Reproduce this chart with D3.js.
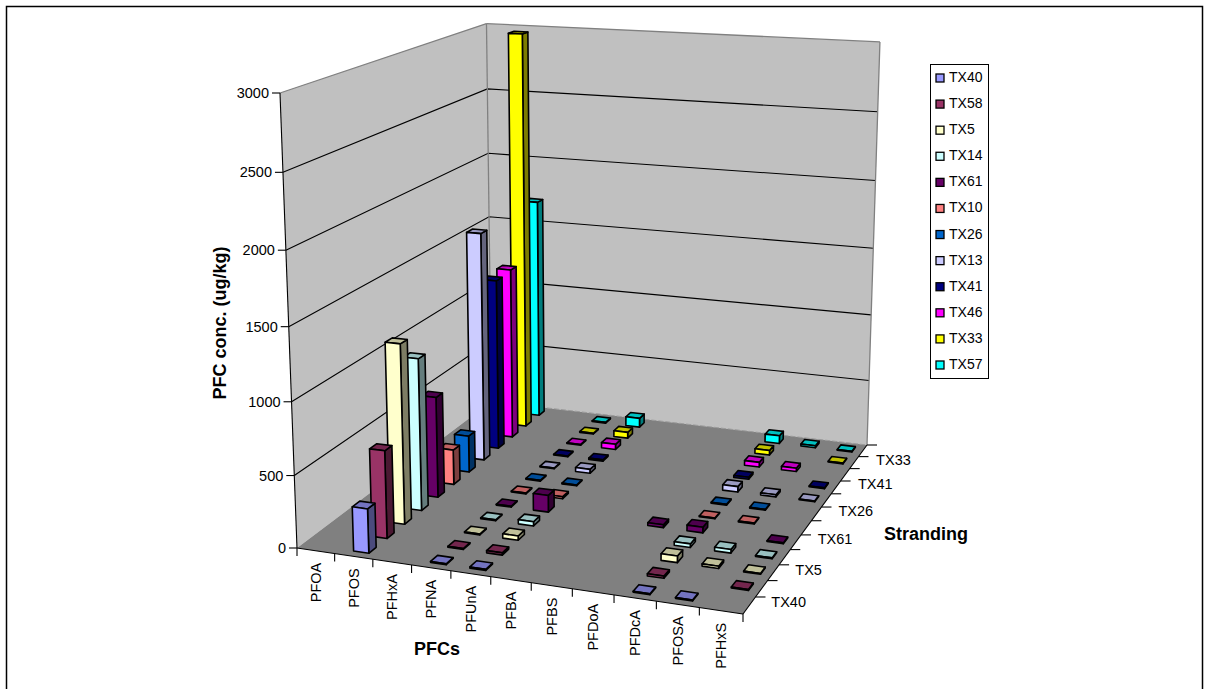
<!DOCTYPE html>
<html>
<head>
<script src="https://d3js.org/d3.v7.min.js"></script>
<style>
html, body { margin: 0; padding: 0; background: #fff; }
svg { display: block; }
text { font-family: "Liberation Sans", Arial, sans-serif; fill: #000; }
</style>
</head>
<body>
<script>
var categories = ["PFOA","PFOS","PFHxA","PFNA","PFUnA","PFBA","PFBS","PFDoA","PFDcA","PFOSA","PFHxS"];
var strandings = ["TX40","TX58","TX5","TX14","TX61","TX10","TX26","TX13","TX41","TX46","TX33","TX57"];
var colors = ["#9999FF","#993366","#FFFFCC","#CCFFFF","#660066","#FF8080","#0066CC","#CCCCFF","#000080","#FF00FF","#FFFF00","#00FFFF"];
var yTicks = [0,500,1000,1500,2000,2500,3000];
var strandingLabels = ["TX40","TX5","TX61","TX26","TX41","TX33"];

// one value per stranding, null = nothing drawn
var pfos  = [305,610,1260,1080,725,255,270,1695,1280,1295,3005,1690];
var pfna  = [6,6,6,6,6,6,6,6,6,6,6,6];
var pfuna = [8,15,30,30,120,15,6,30,10,40,45,70];
var pfdoa = [null,null,null,null,20,null,null,null,null,null,null,null];
var pfdca = [6,15,45,25,40,6,6,40,15,35,35,60];
var pfosa = [6,null,15,25,null,6,6,15,null,25,null,15];
var pfhxs = [null,6,6,6,6,null,null,6,6,null,6,6];
var valueRows = {PFOS:pfos, PFNA:pfna, PFUnA:pfuna, PFDoA:pfdoa, PFDcA:pfdca, PFOSA:pfosa, PFHxS:pfhxs};

var width = 1206, height = 689;
var svg = d3.select("body").append("svg").attr("width",width).attr("height",height);

svg.append("rect").attr("x",6.5).attr("y",6.5).attr("width",1196).attr("height",700)
	.attr("fill","#fff").attr("stroke","#000").attr("stroke-width",1.5);

// 3d box: x along categories, y along strandings, z up
var xScale = d3.scaleLinear().domain([0,categories.length]).range([0,1]);
var yScale = d3.scaleLinear().domain([0,strandings.length]).range([0,1]);
var zScale = d3.scaleLinear().domain([0,3000]).range([0,1]);

// floor corners on screen: front left, front right, back right, back left
var floor = [[297,548],[743,614],[867,445],[491.5,401.5]];
var vanish = [602,8707];
var topFrontLeftY = 93;

var H = squareToQuad(floor);
var s = (topFrontLeftY-floor[0][1])/(vanish[1]-topFrontLeftY);

function squareToQuad(q){
	var dx1 = q[1][0]-q[2][0], dx2 = q[3][0]-q[2][0], sx = q[0][0]-q[1][0]+q[2][0]-q[3][0];
	var dy1 = q[1][1]-q[2][1], dy2 = q[3][1]-q[2][1], sy = q[0][1]-q[1][1]+q[2][1]-q[3][1];
	var det = dx1*dy2-dx2*dy1;
	var g = (sx*dy2-dx2*sy)/det, h = (dx1*sy-sx*dy1)/det;
	return {a:q[1][0]-q[0][0]+g*q[1][0], b:q[3][0]-q[0][0]+h*q[3][0], c:q[0][0],
		d:q[1][1]-q[0][1]+g*q[1][1], e:q[3][1]-q[0][1]+h*q[3][1], f:q[0][1], g:g, h:h};
}

// u,v,w all 0..1
function project(u,v,w){
	var X = H.a*u+H.b*v+H.c+w*s*vanish[0];
	var Y = H.d*u+H.e*v+H.f+w*s*vanish[1];
	var W = H.g*u+H.h*v+1+w*s;
	return [X/W,Y/W];
}

var line = d3.line();
function poly(p){ return line(p)+"Z"; }

// walls and floor
var walls = svg.append("g");
walls.append("path").attr("fill","#C0C0C0")
	.attr("d",poly([project(0,0,0),project(0,1,0),project(0,1,1),project(0,0,1)]));
walls.append("path").attr("fill","#C0C0C0")
	.attr("d",poly([project(0,1,0),project(1,1,0),project(1,1,1),project(0,1,1)]));
walls.append("path").attr("fill","#808080")
	.attr("d",poly([project(0,0,0),project(1,0,0),project(1,1,0),project(0,1,0)]));

yTicks.slice(1,-1).forEach(function(t){
	var w = zScale(t);
	walls.append("path").attr("fill","none").attr("stroke","#000").attr("stroke-width",1.1)
		.attr("d",line([project(0,0,w),project(0,1,w),project(1,1,w)]));
});

var edges = [
	[project(0,0,1),project(0,1,1)],
	[project(0,1,1),project(1,1,1)],
	[project(0,1,0),project(0,1,1)],
	[project(1,1,0),project(1,1,1)]
];
edges.forEach(function(e){
	walls.append("path").attr("d",line(e)).attr("stroke","#808080").attr("stroke-width",1.3).attr("fill","none");
});
walls.append("path").attr("d",line([project(0,1,0),project(1,1,0)])).attr("stroke","#9a9a9a")
	.attr("stroke-width",1).attr("stroke-dasharray","5,2").attr("fill","none");

// bars, painted from the back row forward and left to right
var barStart = 0.35, barEnd = 0.75, depthStart = 0.3, depthEnd = 0.7;
var bars = [];
strandings.forEach(function(name,j){
	categories.forEach(function(cat,i){
		var row = valueRows[cat];
		if(row && row[j]!=null) bars.push({i:i,j:j,value:row[j],color:colors[j]});
	});
});
bars.sort(function(a,b){ return (b.j-a.j)||(a.i-b.i); });

bars.forEach(function(d){
	var u0 = xScale(d.i+barStart), u1 = xScale(d.i+barEnd);
	var v0 = yScale(d.j+depthStart), v1 = yScale(d.j+depthEnd);
	var w = zScale(d.value);
	var base = d3.color(d.color);
	var g = svg.append("g").attr("stroke","#000").attr("stroke-width",1.6).attr("stroke-linejoin","round");
	g.append("path").attr("fill",base.darker(2).formatHex())
		.attr("d",poly([project(u1,v0,0),project(u1,v1,0),project(u1,v1,w),project(u1,v0,w)]));
	g.append("path").attr("fill",base.darker(0.8).formatHex())
		.attr("d",poly([project(u0,v0,w),project(u1,v0,w),project(u1,v1,w),project(u0,v1,w)]));
	g.append("path").attr("fill",d.color)
		.attr("d",poly([project(u0,v0,0),project(u1,v0,0),project(u1,v0,w),project(u0,v0,w)]));
});

// axes
var axes = svg.append("g").attr("stroke","#000").attr("fill","none").attr("stroke-width",1.1);
axes.append("path").attr("d",line([project(0,0,0),project(0,0,1)]));
axes.append("path").attr("d",line([project(0,0,0),project(1,0,0)]));
axes.append("path").attr("d",line([project(1,0,0),project(1,1,0)]));

yTicks.forEach(function(t){
	var p = project(0,0,zScale(t));
	axes.append("line").attr("x1",p[0]-8).attr("x2",p[0]).attr("y1",p[1]).attr("y2",p[1]);
	svg.append("text").attr("x",p[0]-11).attr("y",p[1]+5).attr("text-anchor","end")
		.attr("font-size",14.5).text(t);
});

d3.range(categories.length+1).forEach(function(i){
	var p = project(xScale(i),0,0);
	axes.append("line").attr("x1",p[0]).attr("x2",p[0]).attr("y1",p[1]).attr("y2",p[1]+8);
	if(i<categories.length){
		var q = project(xScale(i+0.5),0,0);
		svg.append("text").attr("transform","translate("+(q[0]+5)+","+(q[1]+12)+") rotate(-90)")
			.attr("text-anchor","end").attr("font-size",14.5).text(categories[i]);
	}
});

d3.range(1,strandings.length+1).forEach(function(j){
	var p = project(1,yScale(j),0);
	axes.append("line").attr("x1",p[0]).attr("x2",p[0]+10).attr("y1",p[1]).attr("y2",p[1]);
});
strandingLabels.forEach(function(name){
	var q = project(1,yScale(strandings.indexOf(name)+0.5),0);
	svg.append("text").attr("x",q[0]+22).attr("y",q[1]+2).attr("font-size",14.5).text(name);
});

// axis titles
svg.append("text").attr("transform","translate(226,323) rotate(-90)").attr("text-anchor","middle")
	.attr("font-size",18).attr("font-weight","bold").text("PFC conc. (ug/kg)");
svg.append("text").attr("x",437).attr("y",655).attr("text-anchor","middle")
	.attr("font-size",18).attr("font-weight","bold").text("PFCs");
svg.append("text").attr("x",926).attr("y",540).attr("text-anchor","middle")
	.attr("font-size",18).attr("font-weight","bold").text("Stranding");

// legend
var legend = svg.append("g");
legend.append("rect").attr("x",930.5).attr("y",64.5).attr("width",58).attr("height",314)
	.attr("fill","#fff").attr("stroke","#000");
var legendY = d3.scalePoint().domain(strandings).range([78,365]);
strandings.forEach(function(name,j){
	legend.append("rect").attr("x",936).attr("y",legendY(name)-4).attr("width",8).attr("height",8)
		.attr("fill",colors[j]).attr("stroke","#000").attr("stroke-width",1.3);
	legend.append("text").attr("x",949).attr("y",legendY(name)+4).attr("font-size",14).text(name);
});
</script>
</body>
</html>
